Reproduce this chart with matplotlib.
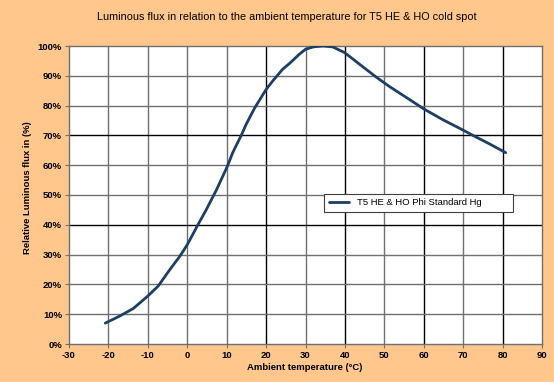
import matplotlib.pyplot as plt
from matplotlib.ticker import PercentFormatter

plt.rcParams['font.family'] = ['Liberation Sans', 'DejaVu Sans']
plt.rcParams['axes.unicode_minus'] = False

# temperatur (°C) und relativer lichtstrom (%)
temp = [-20.8, -17.1, -13.7, -10.0, -7.4, -4.4, -1.9, 0.0, 2.7, 4.8, 7.4, 10.1, 11.6, 13.7,
        14.9, 17.1, 20.0, 21.7, 24.2, 26.0, 28.4, 30.0, 32.0, 34.4, 36.9, 39.9, 43.7, 47.9,
        51.3, 55.5, 60.0, 64.8, 69.8, 73.2, 76.6, 80.8]
flux = [7.0, 9.4, 11.9, 16.1, 19.4, 25.0, 29.4, 33.3, 40.0, 45.0, 51.7, 59.4, 64.4, 70.0,
        73.6, 79.2, 85.4, 88.3, 92.2, 94.2, 97.2, 98.9, 99.7, 100.0, 99.7, 97.8, 93.9, 89.6,
        86.4, 82.8, 78.9, 75.3, 71.9, 69.5, 67.2, 64.2]
x_ticks = list(range(-30, 91, 10))
y_ticks = list(range(0, 101, 10))

bg = '#FFC78C'
fig = plt.figure(figsize=(5.54, 3.82), dpi=100, facecolor=bg)
ax = fig.add_axes([69 / 554, 38 / 382, 473 / 554, 298 / 382])
ax.set_facecolor('white')

# gitter, einige linien dunkler wie im original
for x in x_ticks[1:-1]:
    c = 'black' if x in (20, 40, 60, 80) else '#707070'
    ax.axvline(x, color=c, lw=1.0, zorder=1)
for y in y_ticks[1:-1]:
    c = 'black' if y in (40, 70) else '#707070'
    ax.axhline(y, color=c, lw=1.0, zorder=1)

ax.plot(temp, flux, color='#1D3F66', lw=2.0, solid_capstyle='round', solid_joinstyle='round',
        zorder=3, label='T5 HE & HO Phi Standard Hg')

ax.set_xlim(-30, 90)
ax.set_ylim(0, 100)
ax.set_xticks(x_ticks)
ax.set_yticks(y_ticks)
ax.yaxis.set_major_formatter(PercentFormatter(decimals=0))
for s in ax.spines.values():
    s.set_color('#707070')
    s.set_linewidth(1.0)
ax.tick_params(direction='out', length=3, width=0.8, color='#707070', labelsize=6.8, pad=2)
for lab in ax.get_xticklabels() + ax.get_yticklabels():
    lab.set_fontweight('bold')

fig.text(0.518, 0.955, 'Luminous flux in relation to the ambient temperature for T5 HE & HO cold spot',
         ha='center', va='center', fontsize=7.8)
fig.text(0.049, 0.508, 'Relative Luminous flux in (%)', rotation=90, ha='center', va='center',
         fontsize=6.8, fontweight='bold')
fig.text(305 / 554, 0.037, 'Ambient temperature (°C)', ha='center', va='center',
         fontsize=6.8, fontweight='bold')

leg = ax.legend(loc='center', bbox_to_anchor=(0.529, 0.439, 0.42, 0.07), mode='expand',
                fancybox=False, framealpha=1, edgecolor='#404040', fontsize=6.8,
                handlelength=2.2, borderpad=0.5)
leg.get_frame().set_linewidth(0.8)

fig.savefig('out.png', dpi=100, facecolor=bg)
